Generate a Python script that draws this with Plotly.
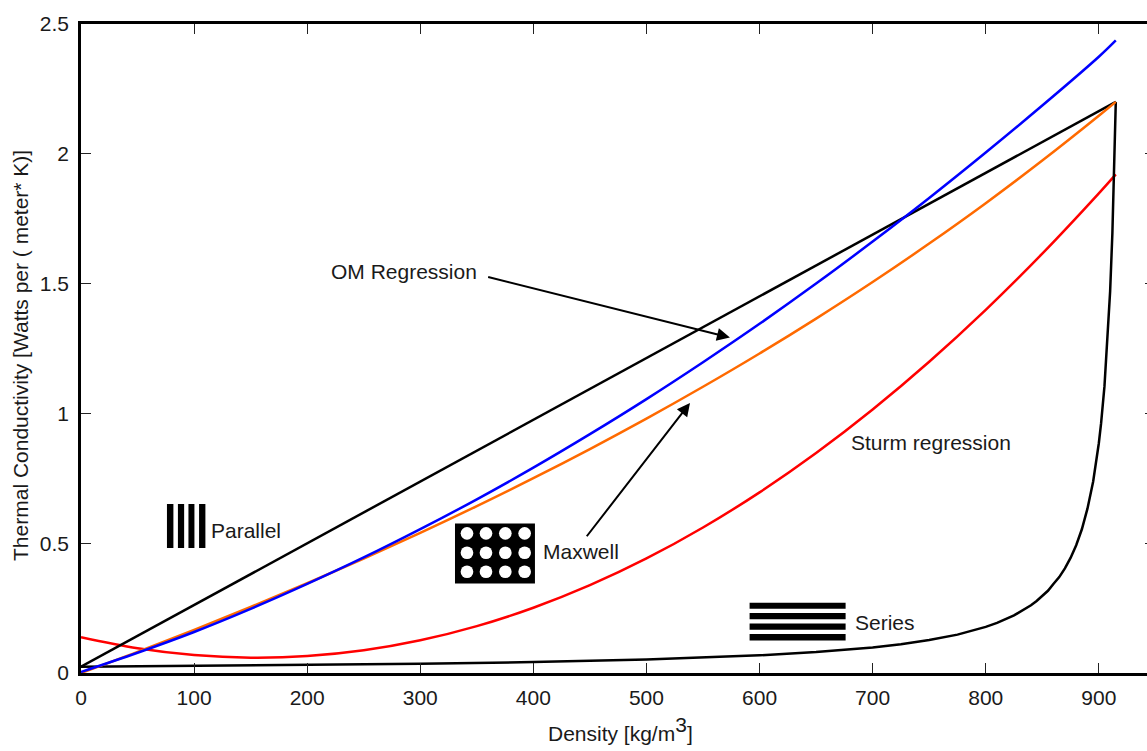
import plotly.graph_objects as go

FONT = "Liberation Sans"
TXT = "#1a1a1a"

density = [0, 50, 100, 150, 200, 250, 300, 350, 400, 450, 500, 550, 600, 650, 700, 750, 800, 850, 900, 915]
om_regression = [0.004, 0.078, 0.158, 0.247, 0.343, 0.445, 0.554, 0.669, 0.791, 0.920, 1.055, 1.197, 1.345, 1.500, 1.662, 1.830, 2.005, 2.186, 2.374, 2.437]
maxwell = [0.0, 0.0816, 0.1664, 0.2543, 0.3458, 0.4409, 0.5399, 0.6430, 0.7506, 0.8628, 0.9799, 1.1025, 1.2307, 1.3652, 1.5060, 1.6542, 1.8097, 1.9738, 2.1463, 2.2]
sturm = [0.138, 0.0956, 0.0693, 0.0592, 0.0653, 0.0876, 0.126, 0.1805, 0.2513, 0.3382, 0.4413, 0.5605, 0.6959, 0.8474, 1.0152, 1.1991, 1.3991, 1.6154, 1.8477, 1.9208]

parallel_density = [0, 915]
parallel = [0.024, 2.2]

series_density = [0, 100, 200, 300, 400, 500, 600, 650, 700, 725, 750, 775, 800, 810, 825, 835, 840, 845, 850, 855, 860, 865, 870, 875, 880, 885, 890, 895, 900, 902, 905, 908, 910, 912, 914, 915]
series = [0.024, 0.0269, 0.0306, 0.0355, 0.0423, 0.0522, 0.0683, 0.0807, 0.0986, 0.1109, 0.1268, 0.1479, 0.1775, 0.1929, 0.2218, 0.2464, 0.2609, 0.2772, 0.2957, 0.3167, 0.3436, 0.3694, 0.4031, 0.4431, 0.4924, 0.5537, 0.6341, 0.7375, 0.8850, 0.9615, 1.105, 1.299, 1.470, 1.695, 2.00, 2.2]

x_ticks = [0, 100, 200, 300, 400, 500, 600, 700, 800, 900]
y_ticks = [0, 0.5, 1, 1.5, 2, 2.5]
y_tick_labels = ["0", "0.5", "1", "1.5", "2", "2.5"]

parallel_bars_x = [(76.0, 81.7), (85.7, 91.2), (95.0, 100.3), (104.4, 110.0)]
parallel_bars_y = (0.4815, 0.651)
series_bars_x = (591.2, 676.1)
series_bars_y = [(0.2477, 0.2708), (0.2069, 0.2311), (0.1667, 0.1911), (0.1256, 0.1502)]
maxwell_box_x = (330.7, 401.4)
maxwell_box_y = (0.3444, 0.5763)
hole_x = [341.3, 358.1, 375.2, 392.3]
hole_y = [0.538, 0.4634, 0.3902]
hole_rx, hole_ry = 5.6, 0.0243

labels = [
    ("OM Regression", 219.5, 1.547),
    ("Sturm regression", 679, 0.887),
    ("Parallel", 113, 0.55),
    ("Maxwell", 406.5, 0.468),
    ("Series", 682.5, 0.193),
]
arrows = [
    (573.8, 1.292, 358.7, 1.527),
    (538.5, 1.04, 446.2, 0.521),
]

fig = go.Figure()


def line(x, y, color, name, shape="spline"):
    fig.add_trace(go.Scatter(x=x, y=y, mode="lines", name=name,
                             line=dict(color=color, width=2.5, shape=shape)))


line(density, sturm, "#ff0000", "Sturm regression")
line(series_density, series, "#000000", "Series", "linear")
line(parallel_density, parallel, "#000000", "Parallel", "linear")
line(density, maxwell, "#ff6a00", "Maxwell")
line(density, om_regression, "#0000ff", "OM Regression")
fig.add_trace(go.Scatter(x=[0], y=[0], yaxis="y2", mode="lines", opacity=0, hoverinfo="skip"))

shapes = []
for x0, x1 in parallel_bars_x:
    shapes.append(dict(type="rect", x0=x0, x1=x1, y0=parallel_bars_y[0], y1=parallel_bars_y[1],
                       fillcolor="black", line_width=0))
for y0, y1 in series_bars_y:
    shapes.append(dict(type="rect", x0=series_bars_x[0], x1=series_bars_x[1], y0=y0, y1=y1,
                       fillcolor="black", line_width=0))
shapes.append(dict(type="rect", x0=maxwell_box_x[0], x1=maxwell_box_x[1],
                   y0=maxwell_box_y[0], y1=maxwell_box_y[1], fillcolor="black", line_width=0))
for cx in hole_x:
    for cy in hole_y:
        shapes.append(dict(type="circle", x0=cx - hole_rx, x1=cx + hole_rx,
                           y0=cy - hole_ry, y1=cy + hole_ry, fillcolor="white", line_width=0))

annotations = []
for text, x, y in labels:
    annotations.append(dict(text=text, x=x, y=y, xref="x", yref="y", xanchor="left", yanchor="middle",
                            showarrow=False, font=dict(family=FONT, size=21, color=TXT)))
for hx, hy, tx, ty in arrows:
    annotations.append(dict(text="", x=hx, y=hy, ax=tx, ay=ty, xref="x", yref="y", axref="x", ayref="y",
                            showarrow=True, arrowhead=2, arrowsize=1.3, arrowwidth=2, arrowcolor="black",
                            standoff=0, startstandoff=0))
annotations.append(dict(text='Density [kg/m<sup><span style="font-size:21px">3</span></sup>]',
                        x=0.5065, y=-0.0862, xref="paper", yref="paper", xanchor="center", yanchor="middle",
                        showarrow=False, font=dict(family=FONT, size=21, color=TXT)))
annotations.append(dict(text="Thermal Conductivity [Watts per ( meter* K)]", textangle=-90,
                        x=-0.0563, y=0.49, xref="paper", yref="paper", xanchor="center", yanchor="middle",
                        showarrow=False, font=dict(family=FONT, size=21, color=TXT)))

fig.update_layout(
    width=1147, height=751, margin=dict(l=81, r=0, t=24, b=78, pad=0),
    paper_bgcolor="white", plot_bgcolor="white", showlegend=False,
    font=dict(family=FONT, size=21, color=TXT),
    shapes=shapes, annotations=annotations,
    xaxis=dict(range=[0, 942.6], tickmode="array", tickvals=x_ticks, ticks="inside", ticklen=10, tickwidth=1,
               tickcolor="#222222", showline=True, linewidth=2.5, linecolor="black", mirror="ticks",
               showgrid=False, zeroline=False, ticklabelstandoff=4, tickfont=dict(size=21, color=TXT)),
    yaxis=dict(range=[0, 2.5], tickmode="array", tickvals=y_ticks, ticktext=y_tick_labels, ticks="inside",
               ticklen=10, tickwidth=1, tickcolor="#222222", showline=True, linewidth=2.5, linecolor="black",
               showgrid=False, zeroline=False, ticklabelstandoff=5, tickfont=dict(size=21, color=TXT)),
    yaxis2=dict(range=[0, 2.5], overlaying="y", side="right", tickmode="array", tickvals=y_ticks,
                showticklabels=False, ticks="inside", ticklen=2, tickwidth=1, tickcolor="#222222",
                showline=False, showgrid=False, zeroline=False),
)

fig.write_html("out.html", config={"displayModeBar": False},
               post_script="document.body.style.margin='0';document.body.style.overflow='hidden';")
